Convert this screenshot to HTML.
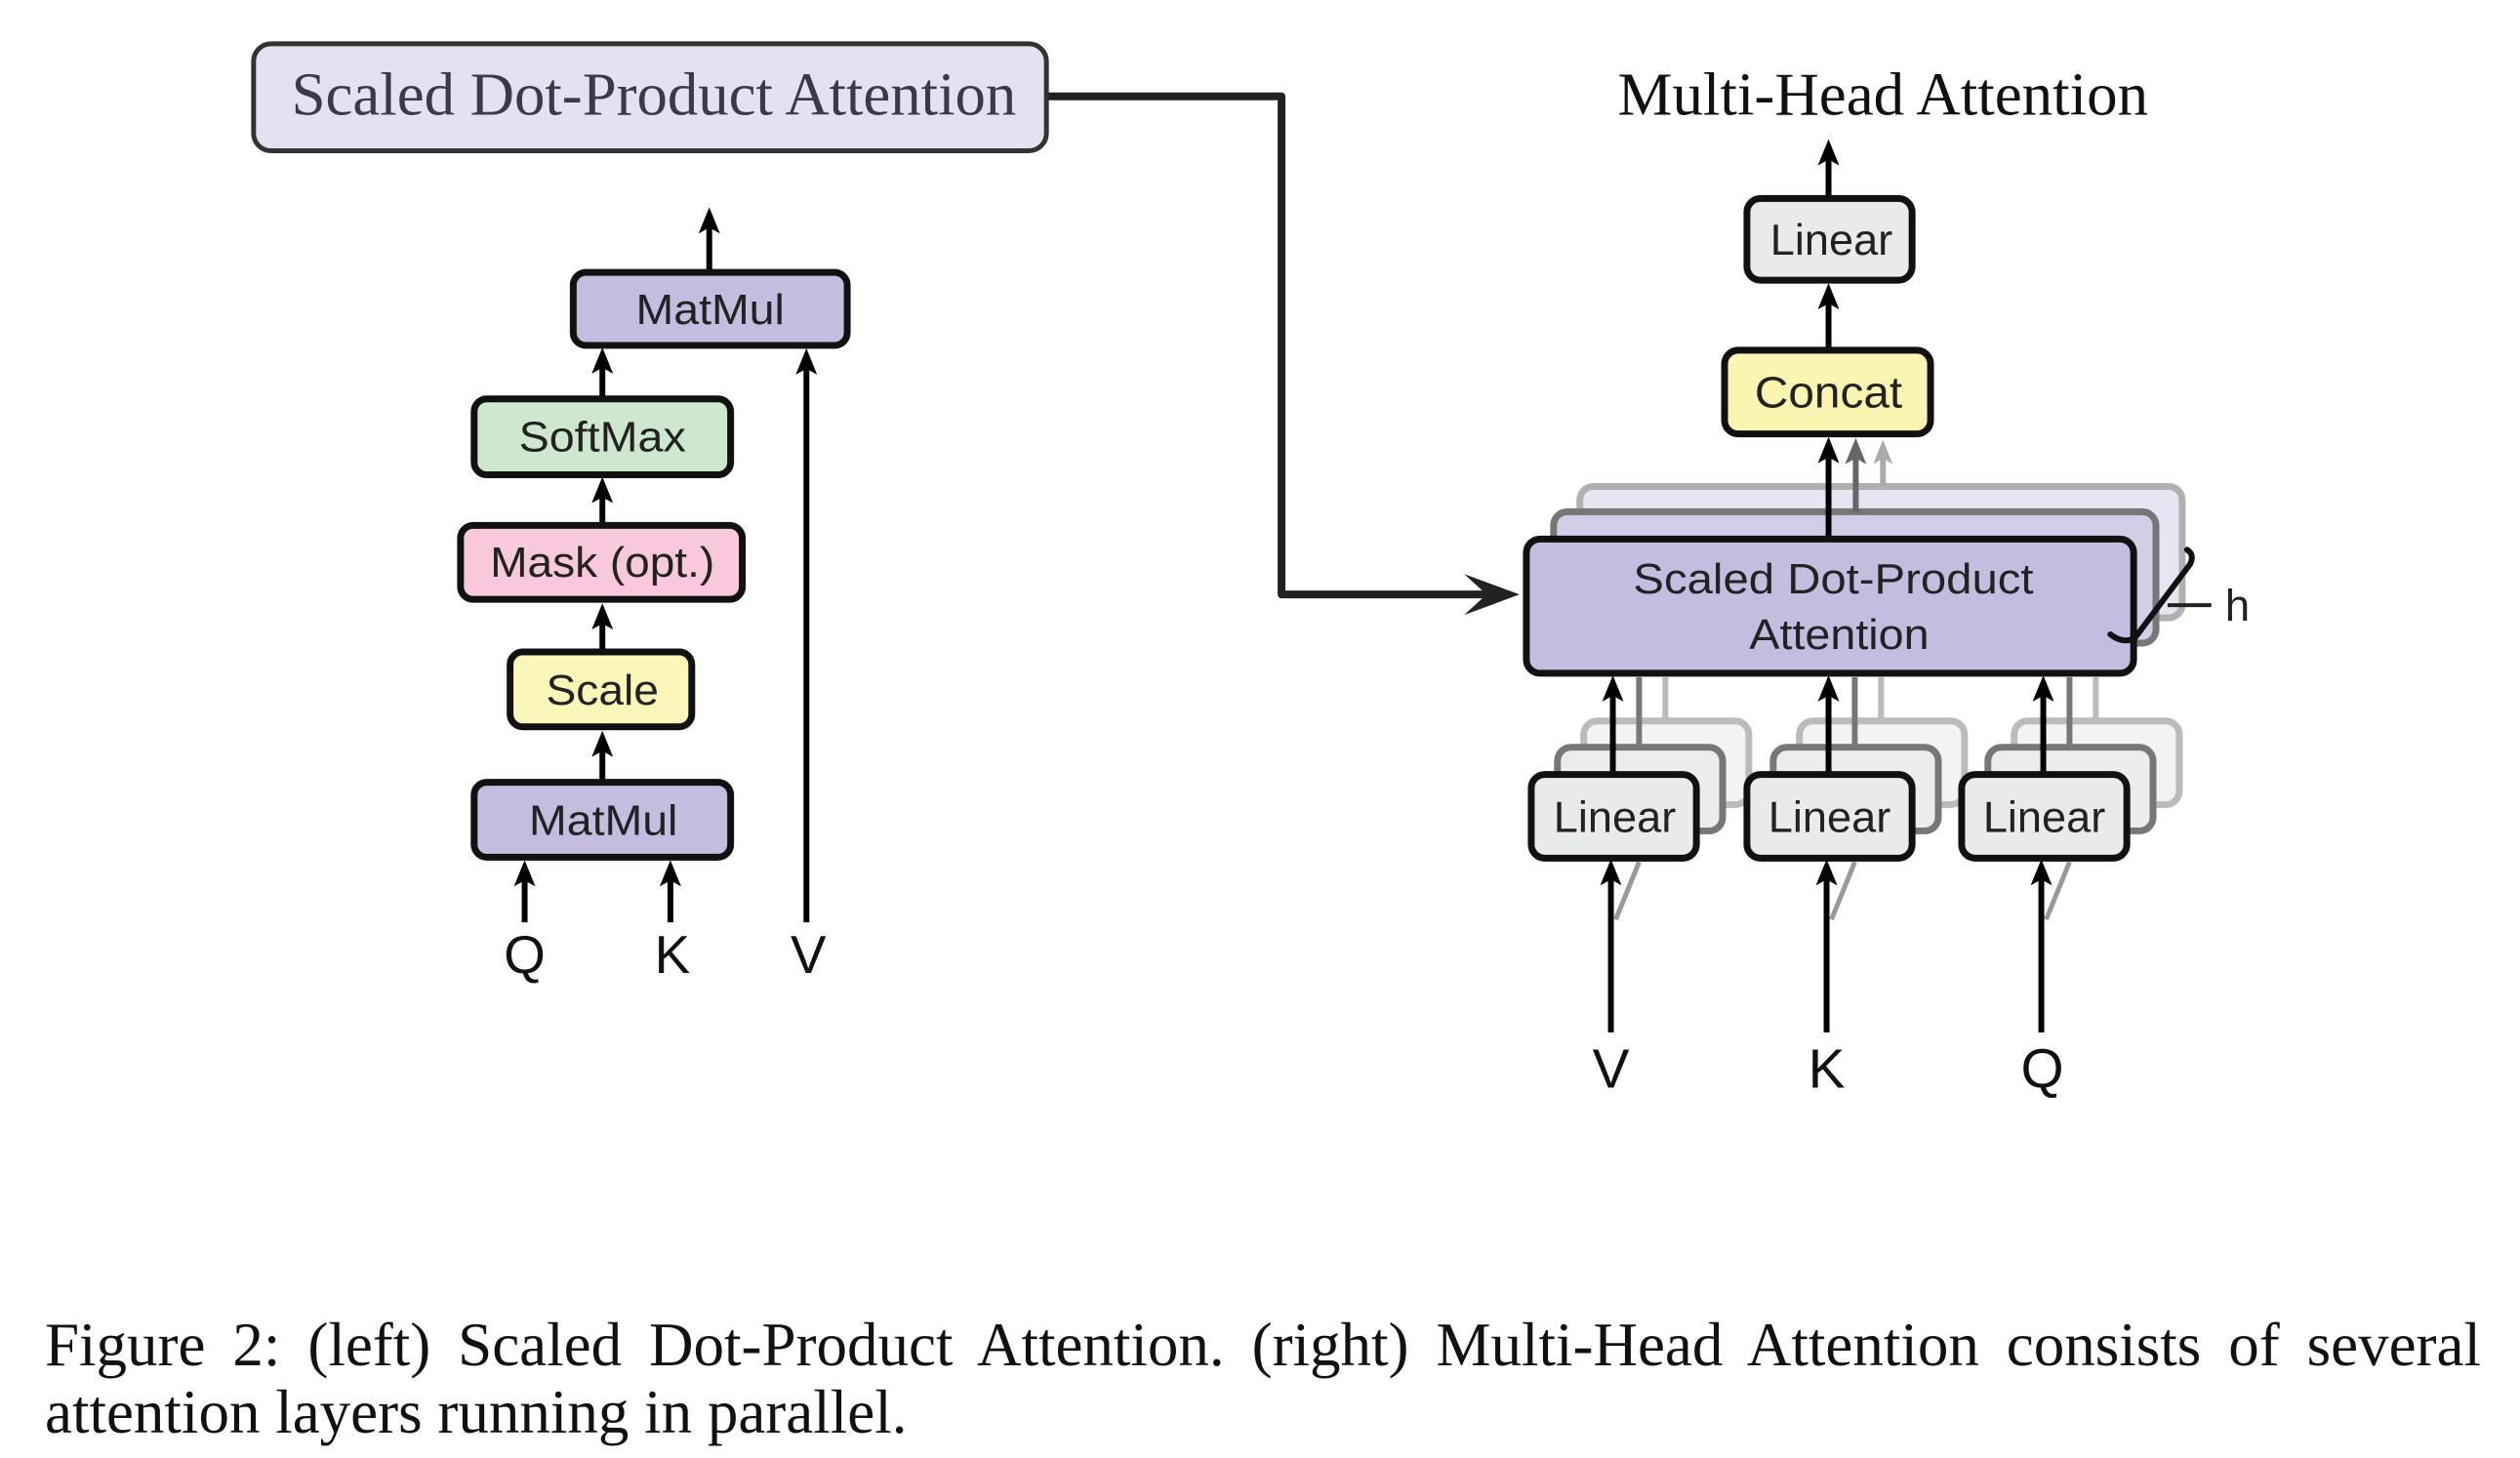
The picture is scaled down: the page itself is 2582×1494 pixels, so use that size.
<!DOCTYPE html>
<html><head><meta charset="utf-8"><style>
html,body{margin:0;padding:0;background:#fff;}
body{width:2582px;height:1494px;position:relative;overflow:hidden;}
.cap{position:absolute;left:46px;width:2496px;font-family:"Liberation Serif",serif;font-size:63px;line-height:63px;color:#111;white-space:nowrap;}
</style></head><body>
<svg width="2582" height="1494" viewBox="0 0 2582 1494" style="position:absolute;left:0;top:0">
<g stroke-linejoin="round" transform="scale(0.9955,0.997)">
<rect x="261" y="45" width="816" height="110" rx="18" fill="#e6e1f0" stroke="#333" stroke-width="5"/>
<text x="300" y="118" font-family="Liberation Serif" font-size="63" fill="#3d3a48" textLength="746" lengthAdjust="spacingAndGlyphs">Scaled Dot-Product Attention</text>
<path d="M1079 99 H1319 V611 H1540" fill="none" stroke="#222" stroke-width="8" stroke-linejoin="round"/>
<polygon points="1564,611 1507,590 1530,611 1507,632" fill="#222"/>

<g fill="none" stroke="#000" stroke-width="6">
<line x1="730" y1="278" x2="730" y2="228"/>
<line x1="620" y1="408" x2="620" y2="368"/>
<line x1="620" y1="538" x2="620" y2="500"/>
<line x1="620" y1="668" x2="620" y2="630"/>
<line x1="620" y1="802" x2="620" y2="760"/>
<line x1="830" y1="948" x2="830" y2="370"/>
<line x1="540" y1="948" x2="540" y2="895"/>
<line x1="690" y1="948" x2="690" y2="895"/>
</g>
<g fill="#000">
<polygon points="730,213 719,240 730,234 741,240"/>
<polygon points="620,357 609,384 620,378 631,384"/>
<polygon points="620,490 609,517 620,511 631,517"/>
<polygon points="620,620 609,647 620,641 631,647"/>
<polygon points="620,751 609,778 620,772 631,778"/>
<polygon points="830,358 819,385 830,379 841,385"/>
<polygon points="540,884 529,911 540,905 551,911"/>
<polygon points="690,884 679,911 690,905 701,911"/>
</g>
<g stroke="#111" stroke-width="7">
<rect x="590" y="280" width="282" height="75" rx="13" fill="#c5bde0"/>
<rect x="488" y="410" width="264" height="78" rx="13" fill="#cde8cf"/>
<rect x="474" y="540" width="290" height="76" rx="13" fill="#f8c9dc"/>
<rect x="525" y="670" width="187" height="77" rx="13" fill="#faf7b8"/>
<rect x="488" y="804" width="264" height="77" rx="13" fill="#c5bde0"/>
</g>
<g font-family="Liberation Sans" font-size="44" fill="#222" text-anchor="middle">
<text x="731" y="333" textLength="153" lengthAdjust="spacingAndGlyphs">MatMul</text>
<text x="620" y="464" textLength="172" lengthAdjust="spacingAndGlyphs">SoftMax</text>
<text x="620" y="593" textLength="231" lengthAdjust="spacingAndGlyphs">Mask (opt.)</text>
<text x="620" y="724" textLength="116" lengthAdjust="spacingAndGlyphs">Scale</text>
<text x="621" y="858" textLength="153" lengthAdjust="spacingAndGlyphs">MatMul</text>
</g>
<g font-family="Liberation Sans" font-size="55" fill="#111" text-anchor="middle">
<text x="540" y="1000">Q</text>
<text x="692" y="1000">K</text>
<text x="832" y="1000">V</text>
</g>

<text x="1938" y="118" font-family="Liberation Serif" font-size="63" fill="#111" text-anchor="middle" textLength="546" lengthAdjust="spacingAndGlyphs">Multi-Head Attention</text>
<g fill="none" stroke="#000" stroke-width="6">
<line x1="1882" y1="204" x2="1882" y2="158"/>
<line x1="1882" y1="360" x2="1882" y2="304"/>
</g>
<polygon points="1882,143 1871,170 1882,164 1893,170" fill="#000"/>
<polygon points="1882,291 1871,318 1882,312 1893,318" fill="#000"/>
<rect x="1798" y="204" width="170" height="84" rx="14" fill="#e9ebea" stroke="#111" stroke-width="7"/>
<rect x="1775" y="360" width="212" height="86" rx="14" fill="#faf5b0" stroke="#111" stroke-width="7"/>
<text x="1885" y="262" font-family="Liberation Sans" font-size="45" fill="#222" text-anchor="middle" textLength="126" lengthAdjust="spacingAndGlyphs">Linear</text>
<text x="1882" y="419" font-family="Liberation Sans" font-size="46" fill="#222" text-anchor="middle" textLength="152" lengthAdjust="spacingAndGlyphs">Concat</text>

<rect x="1626" y="500" width="620" height="135" rx="14" fill="#e8e5f2" stroke="#b0b0b0" stroke-width="7"/>
<line x1="1938" y1="500" x2="1938" y2="470" stroke="#aaa" stroke-width="6"/>
<polygon points="1938,452 1928,477 1938,471 1948,477" fill="#aaa"/>
<rect x="1599" y="526" width="620" height="135" rx="14" fill="#d3cde8" stroke="#777" stroke-width="7"/>
<line x1="1910" y1="526" x2="1910" y2="470" stroke="#666" stroke-width="6"/>
<polygon points="1910,450 1899,477 1910,471 1921,477" fill="#666"/>
<line x1="1882" y1="554" x2="1882" y2="470" stroke="#000" stroke-width="6"/>
<polygon points="1882,449 1871,476 1882,470 1893,476" fill="#000"/>
<rect x="1571" y="554" width="625" height="138" rx="14" fill="#c5bde0" stroke="#111" stroke-width="7"/>
<text x="1887" y="610" font-family="Liberation Sans" font-size="44" fill="#222" text-anchor="middle" textLength="412" lengthAdjust="spacingAndGlyphs">Scaled Dot-Product</text>
<text x="1893" y="667" font-family="Liberation Sans" font-size="44" fill="#222" text-anchor="middle" textLength="185" lengthAdjust="spacingAndGlyphs">Attention</text>
<path d="M2172 652 Q2185 662 2197 656 L2254 580 Q2259 570 2251 565" fill="none" stroke="#111" stroke-width="6" stroke-linecap="round"/>
<line x1="2231" y1="622" x2="2276" y2="622" stroke="#222" stroke-width="4"/>
<text x="2290" y="638" font-family="Liberation Sans" font-size="46" fill="#222">h</text>

<g>
<g fill="#f2f3f2" stroke="#bbb" stroke-width="7">
<rect x="1630" y="741" width="170" height="86" rx="14"/>
<rect x="1852" y="741" width="170" height="86" rx="14"/>
<rect x="2073" y="741" width="170" height="86" rx="14"/>
</g>
<g stroke="#bbb" stroke-width="6">
<line x1="1714" y1="741" x2="1714" y2="696"/>
<line x1="1936" y1="741" x2="1936" y2="696"/>
<line x1="2157" y1="741" x2="2157" y2="696"/>
</g>
<g fill="#ebecec" stroke="#777" stroke-width="7">
<rect x="1603" y="768" width="170" height="86" rx="14"/>
<rect x="1825" y="768" width="170" height="86" rx="14"/>
<rect x="2046" y="768" width="170" height="86" rx="14"/>
</g>
<g stroke="#777" stroke-width="6">
<line x1="1687" y1="768" x2="1687" y2="696"/>
<line x1="1909" y1="768" x2="1909" y2="696"/>
<line x1="2130" y1="768" x2="2130" y2="696"/>
</g>
<g stroke="#000" stroke-width="6">
<line x1="1660" y1="796" x2="1660" y2="710"/>
<line x1="1882" y1="796" x2="1882" y2="710"/>
<line x1="2103" y1="796" x2="2103" y2="710"/>
</g>
<g fill="#000">
<polygon points="1660,694 1649,721 1660,715 1671,721"/>
<polygon points="1882,694 1871,721 1882,715 1893,721"/>
<polygon points="2103,694 2092,721 2103,715 2114,721"/>
</g>
<g fill="#e9ebea" stroke="#111" stroke-width="7">
<rect x="1576" y="796" width="170" height="86" rx="14"/>
<rect x="1798" y="796" width="170" height="86" rx="14"/>
<rect x="2019" y="796" width="170" height="86" rx="14"/>
</g>
<g font-family="Liberation Sans" font-size="45" fill="#222" text-anchor="middle">
<text x="1662" y="855" textLength="126" lengthAdjust="spacingAndGlyphs">Linear</text>
<text x="1883" y="855" textLength="126" lengthAdjust="spacingAndGlyphs">Linear</text>
<text x="2104" y="855" textLength="126" lengthAdjust="spacingAndGlyphs">Linear</text>
</g>
<g stroke="#777" stroke-width="5" opacity="0.75">
<line x1="1663" y1="945" x2="1687" y2="886"/>
<line x1="1885" y1="945" x2="1909" y2="886"/>
<line x1="2106" y1="945" x2="2130" y2="886"/>
</g>
<g stroke="#000" stroke-width="6">
<line x1="1658" y1="1061" x2="1658" y2="898"/>
<line x1="1880" y1="1061" x2="1880" y2="898"/>
<line x1="2101" y1="1061" x2="2101" y2="898"/>
</g>
<g fill="#000">
<polygon points="1658,883 1647,910 1658,904 1669,910"/>
<polygon points="1880,883 1869,910 1880,904 1891,910"/>
<polygon points="2101,883 2090,910 2101,904 2112,910"/>
</g>
</g>
<g font-family="Liberation Sans" font-size="57" fill="#111" text-anchor="middle">
<text x="1658" y="1118">V</text>
<text x="1880" y="1118">K</text>
<text x="2102" y="1118">Q</text>
</g>
</g>
</svg>
<div class="cap" style="top:1347px;text-align:justify;text-align-last:justify;">Figure 2: (left) Scaled Dot-Product Attention. (right) Multi-Head Attention consists of several</div>
<div class="cap" style="top:1416px;">attention layers running in parallel.</div>
</body></html>
